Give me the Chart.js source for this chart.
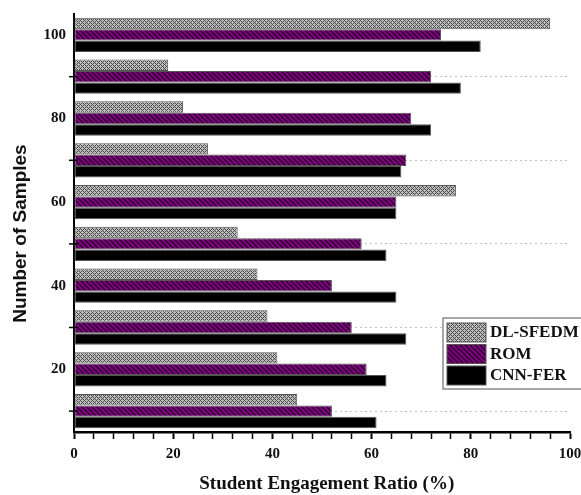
<!DOCTYPE html>
<html>
<head>
<meta charset="utf-8">
<script src="https://cdn.jsdelivr.net/npm/chart.js@4.4.0/dist/chart.umd.min.js"></script>
<style>
  html, body { margin: 0; padding: 0; background: #ffffff; }
</style>
</head>
<body>
<canvas id="chart" width="581" height="495"></canvas>
<script>
// number of samples (category axis, bottom to top)
const samples = ["10", "20", "30", "40", "50", "60", "70", "80", "90", "100"];
// student engagement ratio (%) per method
const dlSfedm = [45, 41, 39, 37, 33, 77, 27, 22, 19, 96];
const rom = [52, 59, 56, 52, 58, 65, 67, 68, 72, 74];
const cnnFer = [61, 63, 67, 65, 63, 65, 66, 72, 78, 82];
const xLabels = [0, 20, 40, 60, 80, 100];
const yLabels = ["20", "40", "60", "80", "100"];

const serif = "'Liberation Serif', 'Times New Roman', serif";

// grey cross-hatch fill
function crossPattern() {
  const c = document.createElement("canvas");
  c.width = 4;
  c.height = 4;
  const g = c.getContext("2d");
  g.fillStyle = "#bdbdbd";
  g.fillRect(0, 0, 4, 4);
  g.fillStyle = "#4a4a4a";
  [[0, 0], [1, 1], [2, 2], [3, 3], [1, 3], [3, 1]].forEach(([x, y]) => g.fillRect(x, y, 1, 1));
  return g.createPattern(c, "repeat");
}

// purple fill with dark diagonal stripes
function stripePattern() {
  const c = document.createElement("canvas");
  c.width = 5;
  c.height = 5;
  const g = c.getContext("2d");
  g.fillStyle = "#820082";
  g.fillRect(0, 0, 5, 5);
  g.strokeStyle = "#2a002a";
  g.lineWidth = 1.5;
  [-5, 0, 5].forEach((x0) => {
    g.beginPath();
    g.moveTo(x0 - 1, -1);
    g.lineTo(x0 + 6, 6);
    g.stroke();
  });
  return g.createPattern(c, "repeat");
}

const fills = [crossPattern(), stripePattern(), "#000000"];

// boxed legend in the lower right corner of the plot
const boxLegend = {
  id: "boxLegend",
  afterDraw(chart) {
    const ctx = chart.ctx;
    const area = chart.chartArea;
    const x = area.right - 127;
    const y = area.bottom - 114;
    ctx.save();
    ctx.fillStyle = "#ffffff";
    ctx.fillRect(x, y, 150, 71);
    ctx.strokeStyle = "#8a8a8a";
    ctx.lineWidth = 1.5;
    ctx.strokeRect(x, y, 150, 71);
    chart.data.datasets.forEach((ds, i) => {
      const sy = y + 5 + i * 21.5;
      ctx.fillStyle = ds.backgroundColor;
      ctx.fillRect(x + 4, sy, 39, 19);
      ctx.strokeStyle = "#555555";
      ctx.lineWidth = 1;
      ctx.strokeRect(x + 4, sy, 39, 19);
      ctx.fillStyle = "#111111";
      ctx.font = "bold 17px " + serif;
      ctx.textBaseline = "middle";
      ctx.fillText(ds.label, x + 47, sy + 10);
    });
    ctx.restore();
  },
};

// short tick marks crossing the left axis at the unlabelled categories
const crossTicks = {
  id: "crossTicks",
  afterDatasetsDraw(chart) {
    const ctx = chart.ctx;
    const y = chart.scales.y;
    ctx.save();
    ctx.strokeStyle = "#000000";
    ctx.lineWidth = 1.5;
    samples.forEach((s, i) => {
      if (yLabels.includes(s)) return;
      const py = y.getPixelForValue(i);
      ctx.beginPath();
      ctx.moveTo(y.right - 5, py);
      ctx.lineTo(y.right + 4, py);
      ctx.stroke();
    });
    ctx.restore();
  },
};

new Chart(document.getElementById("chart"), {
  type: "bar",
  data: {
    labels: samples,
    datasets: [
      { label: "DL-SFEDM", data: dlSfedm, backgroundColor: fills[0] },
      { label: "ROM", data: rom, backgroundColor: fills[1] },
      { label: "CNN-FER", data: cnnFer, backgroundColor: fills[2] },
    ],
  },
  options: {
    indexAxis: "y",
    responsive: false,
    animation: false,
    layout: { padding: { top: 14, right: 11, left: 0, bottom: 0 } },
    datasets: {
      bar: {
        categoryPercentage: 0.82,
        barPercentage: 1.0,
        borderColor: "#555555",
        borderWidth: 1,
        borderSkipped: false,
      },
    },
    plugins: {
      legend: { display: false },
      tooltip: { enabled: false },
    },
    scales: {
      x: {
        type: "linear",
        min: 0,
        max: 100,
        border: { color: "#000000", width: 2.5 },
        grid: {
          drawOnChartArea: false,
          tickLength: 7,
          tickColor: "#000000",
          tickWidth: (ctx) => (ctx.tick && xLabels.includes(ctx.tick.value) ? 2 : 1.5),
        },
        ticks: {
          stepSize: 4,
          autoSkip: false,
          maxRotation: 0,
          padding: 6,
          color: "#111111",
          font: { family: serif, size: 15, weight: "bold" },
          callback: (v) => (xLabels.includes(v) ? String(v) : ""),
        },
        title: {
          display: true,
          text: "  Student Engagement Ratio (%)",
          color: "#111111",
          font: { family: serif, size: 19, weight: "bold" },
          padding: { top: 7, bottom: 0 },
        },
        afterFit(scale) {
          scale.height = 63;
          scale.paddingLeft = 0;
          scale.paddingRight = 0;
        },
      },
      y: {
        type: "category",
        reverse: true,
        offset: true,
        border: { color: "#000000", width: 2, dash: [2, 3] },
        grid: {
          offset: false,
          tickLength: 5,
          color: (ctx) => (ctx.index % 2 === 0 ? "rgba(170,170,170,0.7)" : "rgba(0,0,0,0)"),
          tickColor: "rgba(0,0,0,0)",
          lineWidth: 1,
        },
        ticks: {
          autoSkip: false,
          padding: 3,
          color: "#111111",
          font: { family: serif, size: 15, weight: "bold" },
          callback: function (v) {
            const label = this.getLabelForValue(v);
            return yLabels.includes(label) ? label : "";
          },
        },
        title: {
          display: true,
          // trailing spaces nudge the rotated title a little lower
          text: "Number of Samples    ",
          color: "#111111",
          font: { family: "'Liberation Sans', Arial, sans-serif", size: 19, weight: "bold" },
          padding: { top: 9, bottom: 0 },
        },
        afterFit(scale) {
          scale.width = 74;
          scale.paddingTop = 0;
          scale.paddingBottom = 0;
        },
      },
    },
  },
  plugins: [crossTicks, boxLegend],
});
</script>
</body>
</html>
